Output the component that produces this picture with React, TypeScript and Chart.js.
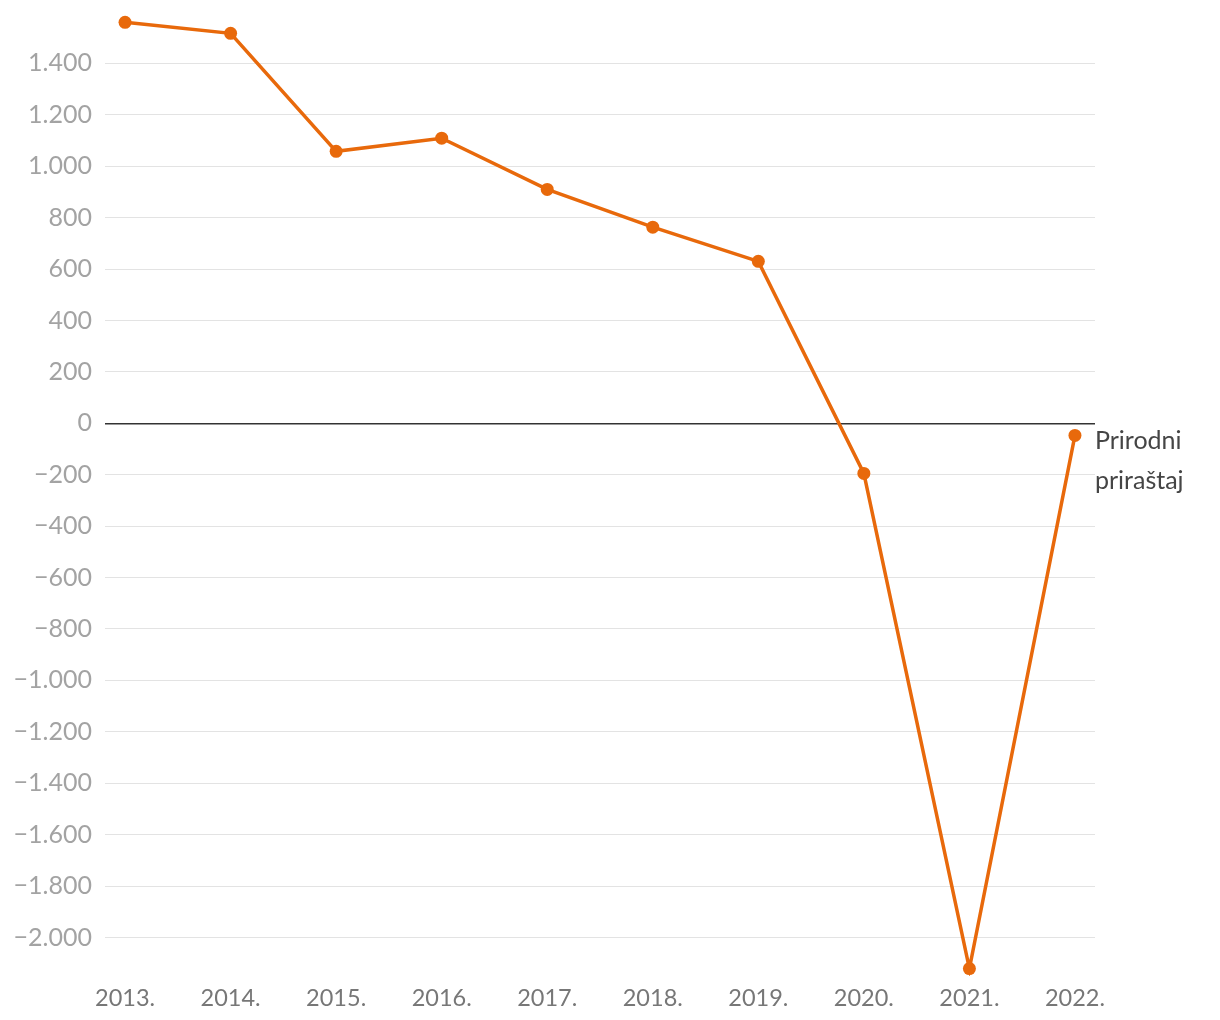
import React, { useEffect, useRef } from "react";
import { Chart, registerables } from "chart.js";

Chart.register(...registerables);

const years = [2013, 2014, 2015, 2016, 2017, 2018, 2019, 2020, 2021, 2022];
const values = [1560, 1517, 1058, 1109, 910, 763, 630, -195, -2121, -47];
const yTicks = [-2000, -1800, -1600, -1400, -1200, -1000, -800, -600, -400, -200, 0, 200, 400, 600, 800, 1000, 1200, 1400];
const seriesLabel = ["Prirodni", "priraštaj"];

const FONT = "Lato, 'Noto Sans', sans-serif";
const ORANGE = "#e8690b";

function fmt(v: number): string {
  const abs = Math.abs(v);
  const s = abs >= 1000 ? Math.floor(abs / 1000) + "." + String(abs % 1000).padStart(3, "0") : String(abs);
  return v < 0 ? "\u2212" + s : s;
}

const endLabelPlugin = {
  id: "endLabel",
  afterDatasetsDraw(chart: any) {
    const meta = chart.getDatasetMeta(0);
    const last = meta.data[meta.data.length - 1];
    if (!last) return;
    const ctx = chart.ctx;
    ctx.save();
    ctx.font = `25px ${FONT}`;
    ctx.fillStyle = "#454545";
    ctx.textAlign = "left";
    ctx.textBaseline = "middle";
    seriesLabel.forEach((t, i) => {
      ctx.fillText(t, last.x + 20, last.y + 6 + i * 40);
    });
    ctx.restore();
  },
};

export default function App() {
  const ref = useRef<HTMLCanvasElement>(null);
  useEffect(() => {
    document.body.style.margin = "0";
    const chart = new Chart(ref.current!, {
      type: "line",
      data: {
        datasets: [
          {
            data: years.map((y, i) => ({ x: y, y: values[i] })),
            borderColor: ORANGE,
            backgroundColor: ORANGE,
            borderWidth: 3.5,
            pointRadius: 6.5,
            pointBackgroundColor: ORANGE,
            pointBorderWidth: 0,
            tension: 0,
          },
        ],
      },
      options: {
        animation: false,
        responsive: false,
        maintainAspectRatio: false,
        layout: { padding: { top: 12, right: 125, left: 0, bottom: 0 } },
        plugins: { legend: { display: false }, tooltip: { enabled: false } },
        scales: {
          x: {
            type: "linear",
            min: 2012.81,
            max: 2022.19,
            afterBuildTicks: (s: any) => {
              s.ticks = years.map((v) => ({ value: v }));
            },
            afterFit: (s: any) => {
              s.height = 44;
            },
            grid: { display: false },
            border: { display: false },
            ticks: {
              color: "#777777",
              font: { family: FONT, size: 23.5 },
              padding: 0,
              maxRotation: 0,
              autoSkip: false,
              callback: (v: any) => v + ".",
            },
          },
          y: {
            min: -2150,
            max: 1600,
            afterBuildTicks: (s: any) => {
              s.ticks = yTicks.map((v) => ({ value: v }));
            },
            afterFit: (s: any) => {
              s.width = 105;
              s.paddingTop = 0;
              s.paddingBottom = 0;
            },
            border: { display: false },
            grid: {
              color: (c: any) => (c.tick && c.tick.value === 0 ? "#333333" : "#e3e3e3"),
              lineWidth: (c: any) => (c.tick && c.tick.value === 0 ? 1.5 : 1),
              drawTicks: false,
            },
            ticks: {
              color: "#a3a3a3",
              font: { family: FONT, size: 25 },
              padding: 13,
              autoSkip: false,
              callback: (v: any) => fmt(Number(v)),
            },
          },
        },
      },
      plugins: [endLabelPlugin],
    });
    return () => chart.destroy();
  }, []);
  return (
    <div style={{ position: "fixed", left: 0, top: 0, width: 1220, height: 1020, background: "#fff" }}>
      <canvas ref={ref} width={1220} height={1020} style={{ width: 1220, height: 1020 }} />
    </div>
  );
}
